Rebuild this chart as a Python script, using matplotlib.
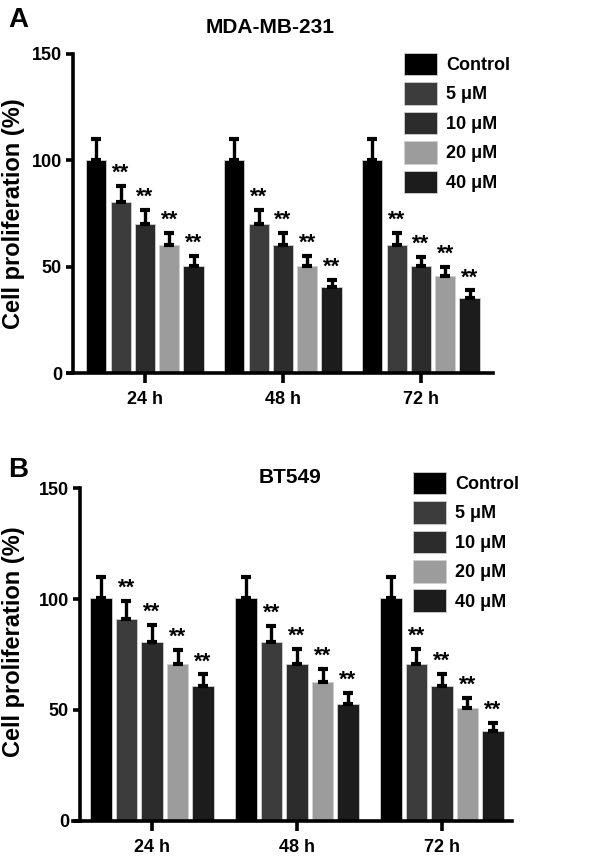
import matplotlib
matplotlib.use("Agg")
import matplotlib.pyplot as plt
import numpy as np
from matplotlib.patches import Patch

plt.rcParams['font.family'] = ['Liberation Sans', 'DejaVu Sans']
plt.rcParams['font.weight'] = 'bold'

timepoints = ["24 h", "48 h", "72 h"]
groups = ["Control", "5 μM", "10 μM", "20 μM", "40 μM"]
colors = ["#000000", "#3c3c3c", "#2c2c2c", "#9c9c9c", "#1c1c1c"]

# Panel A: MDA-MB-231 (rows = groups, cols = timepoints)
a_vals = [[100.3, 100.3, 100.3],
          [80.4, 70.2, 60.3],
          [70.2, 60.3, 50.5],
          [60.3, 50.5, 45.5],
          [50.5, 40.4, 35.3]]
a_err = [[9.5, 9.5, 9.5],
         [7.4, 6.6, 5.5],
         [6.6, 5.5, 4.2],
         [5.5, 4.4, 4.2],
         [4.4, 3.5, 3.5]]

# Panel B: BT549
b_vals = [[100.6, 100.6, 100.6],
          [90.9, 80.8, 70.6],
          [80.8, 70.6, 60.8],
          [70.6, 62.7, 50.7],
          [60.8, 52.7, 40.6]]
b_err = [[9.5, 9.5, 9.5],
         [8.4, 7.2, 6.8],
         [7.5, 6.8, 5.4],
         [6.4, 5.6, 4.5],
         [5.2, 4.8, 3.6]]

W, H = 602, 861
fig = plt.figure(figsize=(W / 100, H / 100), dpi=100)

def px_axes(left, right, y0, ytop):
    return fig.add_axes([left / W, (H - y0) / H, (right - left) / W, (y0 - ytop) / H])

def draw_panel(ax, vals, errs, title, title_xy, xlim, spine_frac, legend_anchor, ylabel_xy):
    pitch = 0.176
    width = 0.146
    x = np.arange(len(timepoints))
    for i, g in enumerate(groups):
        xpos = x + (i - 2) * pitch
        v = np.array(vals[i])
        e = np.array(errs[i])
        ax.bar(xpos, v, width=width, color=colors[i], edgecolor="#d0d0d0",
               linewidth=0.6, zorder=2, label=g)
        ax.errorbar(xpos, v, yerr=[np.zeros_like(e), e], fmt="none", ecolor="black",
                    elinewidth=2.4, capsize=3.3, capthick=3.0, zorder=3)
        if i > 0:
            for xp, vv, ee in zip(xpos, v, e):
                ax.text(xp, vv + ee + 1.0, "**", ha="center", va="bottom",
                        fontsize=16, fontweight="bold")
    ax.set_xlim(*xlim)
    ax.set_ylim(0, 150)
    ax.set_yticks([0, 50, 100, 150])
    ax.set_xticks(x)
    ax.set_xticklabels(timepoints)
    for s in ["top", "right"]:
        ax.spines[s].set_visible(False)
    for s in ["left", "bottom"]:
        ax.spines[s].set_linewidth(2.6)
    ax.spines["left"].set_position(("axes", spine_frac))
    ax.tick_params(axis="y", length=5, width=2.6, labelsize=13, pad=3)
    ax.tick_params(axis="x", length=7, width=2.6, labelsize=13, pad=6)
    for lab in ax.get_xticklabels() + ax.get_yticklabels():
        lab.set_fontweight("bold")
    ax.set_ylabel("Cell proliferation (%)", fontsize=17, fontweight="bold")
    ax.yaxis.set_label_coords(*ylabel_xy)
    ax.set_title(title, fontsize=15, fontweight="bold", x=title_xy[0], y=title_xy[1], pad=0)
    handles = [Patch(facecolor=colors[i], edgecolor="#d0d0d0", linewidth=0.6) for i in range(len(groups))]
    leg = ax.legend(handles, groups, loc="upper left", bbox_to_anchor=legend_anchor,
                    frameon=False, fontsize=13, handlelength=1.83, handleheight=1.55,
                    handletextpad=0.5, labelspacing=0.38, borderaxespad=0)
    for t in leg.get_texts():
        t.set_fontweight("bold")

# Panel A
axA = px_axes(68, 493, 373, 54)
draw_panel(axA, a_vals, a_err, "MDA-MB-231", (0.475, 1.066), (-0.558, 2.522), 5 / 425,
           (0.774, 1.027), (-0.101, 0.5))
fig.text(8 / W, 1 - 27 / H, "A", fontsize=20, fontweight="bold", ha="left", va="baseline")

# Panel B
axB = px_axes(73, 512, 820.7, 488.3)
draw_panel(axB, b_vals, b_err, "BT549", (0.494, 1.016), (-0.545, 2.483), 7 / 439,
           (0.7585, 1.072), (-0.109, 0.539))
fig.text(8 / W, 1 - 477 / H, "B", fontsize=20, fontweight="bold", ha="left", va="baseline")

fig.savefig("out.png", dpi=100)
